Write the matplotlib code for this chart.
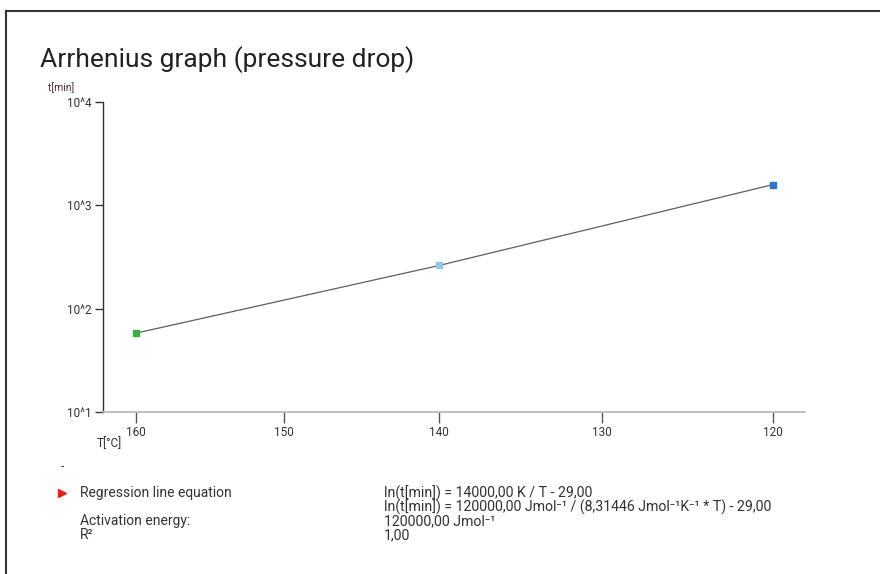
import numpy as np
import matplotlib.pyplot as plt
from matplotlib.lines import Line2D

# measured points (temperature in degC, time in min)
temps = [160, 140, 120]
times = [58, 262, 1590]
point_colors = ['#3cae3f', '#8fc8e8', '#2f74c8']

xtick_temps = [160, 150, 140, 130, 120]
ytick_vals = [10, 100, 1000, 10000]
ytick_labels = ['10^1', '10^2', '10^3', '10^4']

left_labels = ['Regression line equation', '', 'Activation energy:', 'R²']
right_labels = ['ln(t[min]) = 14000,00 K / T - 29,00',
                'ln(t[min]) = 120000,00 Jmol⁻¹ / (8,31446 Jmol⁻¹K⁻¹ * T) - 29,00',
                '120000,00 Jmol⁻¹',
                '1,00']


def inv_t(t):
    return 1.0 / (np.asarray(t, dtype=float) + 273.15)


plt.rcParams['font.family'] = ['Roboto', 'DejaVu Sans']
W, H = 880, 574
fig = plt.figure(figsize=(W / 100, H / 100), dpi=100)


def fx(px):
    return px / W


def fy(py):
    return 1 - py / H


ax = fig.add_axes([fx(103), fy(412), fx(805) - fx(103), fy(102) - fy(412)])

x = inv_t(temps)
ax.plot(x, times, color='#5e5e5e', lw=0.9, zorder=2)
for xi, yi, c in zip(x, times, point_colors):
    ax.plot([xi], [yi], ls='none', marker='s', ms=4.5, color=c, mec=c, zorder=3)

ax.set_yscale('log')
ax.set_ylim(10, 10000)
ax.set_yticks(ytick_vals)
ax.set_yticklabels(ytick_labels)
ax.yaxis.set_minor_locator(plt.NullLocator())
ax.set_xlim(inv_t(162.3), inv_t(118.2))
ax.set_xticks(inv_t(xtick_temps))
ax.set_xticklabels([str(t) for t in xtick_temps])

for s in ['top', 'right']:
    ax.spines[s].set_visible(False)
ax.spines['left'].set_color('#333333')
ax.spines['left'].set_linewidth(1.0)
ax.spines['bottom'].set_color('#b5b5b5')
ax.spines['bottom'].set_linewidth(1.2)
ax.tick_params(axis='y', direction='out', length=6, width=1, color='#333333',
               labelsize=8.5, labelcolor='#333333', pad=2)
ax.tick_params(axis='x', direction='out', length=8, width=1, color='#555555',
               labelsize=8.5, labelcolor='#333333', pad=2)

# labels and title
fig.text(fx(40), fy(60), 'Arrhenius graph (pressure drop)', fontsize=19,
         color='#222222', va='center', ha='left')
fig.text(fx(74), fy(88), 't[min]', fontsize=7.5, color='#4a2c3a', ha='right', va='center')
fig.text(fx(97), fy(444), 'T[°C]', fontsize=8.5, color='#333333', ha='left', va='center')
fig.text(fx(62), fy(467), '-', fontsize=8.5, color='#333333', ha='center', va='center')

# results block
fig.add_artist(Line2D([fx(62)], [fy(493)], marker='>', ms=5.5, color='#e0241b', ls='none'))
row_y = [493, 507, 521, 535]
for yy, lt, rt in zip(row_y, left_labels, right_labels):
    if lt:
        fig.text(fx(80), fy(yy), lt, fontsize=10, color='#333333', va='center', ha='left')
    fig.text(fx(384), fy(yy), rt, fontsize=10.2, color='#333333', va='center', ha='left')

# frame
fig.add_artist(Line2D([fx(6), 1], [fy(11), fy(11)], color='#333333', lw=1.5))
fig.add_artist(Line2D([fx(6), fx(6)], [fy(11), 0], color='#333333', lw=1.5))

fig.savefig('out.png', dpi=100, facecolor='white')
